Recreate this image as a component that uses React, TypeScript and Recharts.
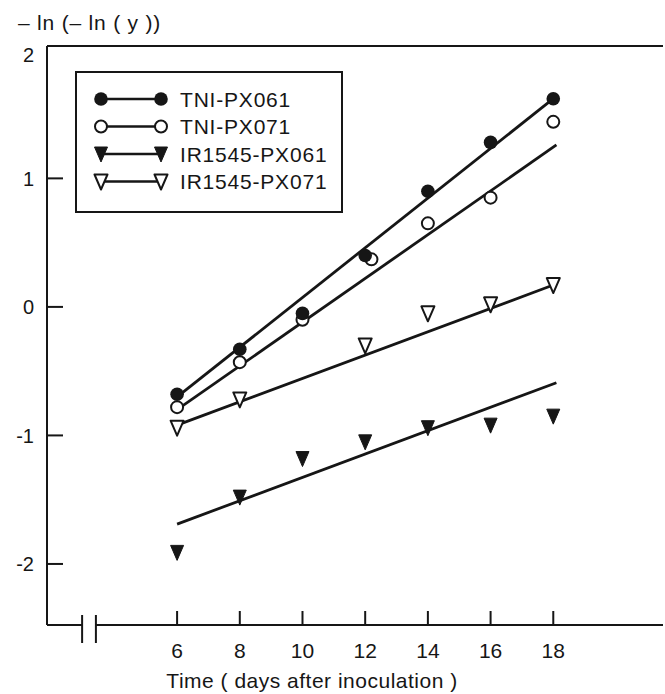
import { ComposedChart, Line, ReferenceLine, Scatter, XAxis, YAxis } from "recharts";

const INK = "#161616";
const FONT = '"Liberation Sans", Arial, sans-serif';

const xTicks = [6, 8, 10, 12, 14, 16, 18];
const yTicks = [-2, -1, 0, 1, 2];
const xDomain = [1.85, 21.5];
const yDomain = [-2.475, 2.03];
// axis break on the time axis (days) and how far the bars reach (y units)
const breakXs = [2.97, 3.41];
const breakYs = [-2.397, -2.615];

const yTitle = "– ln (– ln ( y ))";
const xTitle = "Time  ( days after inoculation )";

const seriesNames = ["TNI-PX061", "TNI-PX071", "IR1545-PX061", "IR1545-PX071"];
const seriesMarks = ["dot", "circle", "tri", "openTri"];

const tniPx061 = [
  { x: 6, y: -0.68 },
  { x: 8, y: -0.33 },
  { x: 10, y: -0.05 },
  { x: 12, y: 0.4 },
  { x: 14, y: 0.9 },
  { x: 16, y: 1.28 },
  { x: 18, y: 1.62 },
];
const tniPx071 = [
  { x: 6, y: -0.78 },
  { x: 8, y: -0.43 },
  { x: 10, y: -0.1 },
  { x: 12.2, y: 0.37 },
  { x: 14, y: 0.65 },
  { x: 16, y: 0.85 },
  { x: 18, y: 1.44 },
];
const ir1545Px061 = [
  { x: 6, y: -1.91 },
  { x: 8, y: -1.48 },
  { x: 10, y: -1.18 },
  { x: 12, y: -1.05 },
  { x: 14, y: -0.94 },
  { x: 16, y: -0.92 },
  { x: 18, y: -0.85 },
];
const ir1545Px071 = [
  { x: 6, y: -0.94 },
  { x: 8, y: -0.72 },
  { x: 12, y: -0.3 },
  { x: 14, y: -0.05 },
  { x: 16, y: 0.02 },
  { x: 18, y: 0.17 },
];

// fitted regression lines (end points)
const fitTniPx061 = [
  { x: 5.95, y: -0.71 },
  { x: 18, y: 1.62 },
];
const fitTniPx071 = [
  { x: 6, y: -0.8 },
  { x: 18.1, y: 1.26 },
];
const fitIr1545Px061 = [
  { x: 6, y: -1.69 },
  { x: 18.1, y: -0.59 },
];
const fitIr1545Px071 = [
  { x: 6, y: -0.92 },
  { x: 18, y: 0.17 },
];

function Mark({ kind, cx, cy }: { kind: string; cx: number; cy: number }) {
  if (kind === "dot") return <circle cx={cx} cy={cy} r={6.8} fill={INK} />;
  if (kind === "circle")
    return <circle cx={cx} cy={cy} r={6} fill="#fff" stroke={INK} strokeWidth={2} />;
  const pts = `${cx - 6.5},${cy - 7} ${cx + 6.5},${cy - 7} ${cx},${cy + 8}`;
  if (kind === "tri") return <polygon points={pts} fill={INK} stroke={INK} strokeWidth={1} />;
  return <polygon points={pts} fill="#fff" stroke={INK} strokeWidth={2} strokeLinejoin="round" />;
}

const markShape = (kind: string) => (p: any) => <Mark kind={kind} cx={p.cx} cy={p.cy} />;

function YTick({ x, y, payload }: any) {
  const v = payload.value;
  return (
    <g>
      {v !== 2 && <line x1={x} x2={x + 16} y1={y} y2={y} stroke={INK} strokeWidth={2} />}
      <text x={x - 13} y={v === 2 ? y + 5 : y} dy="0.36em" textAnchor="end" fontSize={20} fontFamily={FONT} fill={INK}>
        {v}
      </text>
    </g>
  );
}

function XTick({ x, y, payload }: any) {
  return (
    <g>
      <line x1={x} x2={x} y1={y} y2={y - 14} stroke={INK} strokeWidth={2} />
      <text x={x} y={y + 25} dy="0.36em" textAnchor="middle" fontSize={21} fontFamily={FONT} fill={INK}>
        {payload.value}
      </text>
    </g>
  );
}

function Legendbox() {
  return (
    <div
      style={{
        position: "absolute",
        left: 75,
        top: 71,
        width: 268,
        height: 142,
        border: `2px solid ${INK}`,
        boxSizing: "border-box",
        background: "#fff",
      }}
    >
      <svg width={264} height={138}>
        {seriesNames.map((name, i) => {
          const cy = 26 + i * 27.5;
          return (
            <g key={name}>
              <line x1={24} x2={84} y1={cy} y2={cy} stroke={INK} strokeWidth={2.5} />
              <Mark kind={seriesMarks[i]} cx={24} cy={cy} />
              <Mark kind={seriesMarks[i]} cx={84} cy={cy} />
              <text x={103} y={cy} dy="0.36em" fontSize={21} fontFamily={FONT} fill={INK} letterSpacing={0.8}>
                {name}
              </text>
            </g>
          );
        })}
      </svg>
    </div>
  );
}

export default function App() {
  return (
    <div style={{ position: "absolute", left: 0, top: 0, width: 665, height: 694, background: "#fff" }}>
      <ComposedChart width={665} height={694} margin={{ top: 46, right: 2, bottom: 0, left: 0 }}>
        <XAxis
          dataKey="x"
          type="number"
          domain={xDomain}
          ticks={xTicks}
          allowDataOverflow
          axisLine={false}
          tickLine={false}
          tickSize={0}
          tickMargin={0}
          height={69}
          tick={<XTick />}
          label={(props: any) => {
            const vb = props.viewBox || { x: 47, y: 625 };
            return (
              <text x={vb.x + 265} y={vb.y + 55} dy="0.36em" textAnchor="middle" fontSize={21} fontFamily={FONT} fill={INK} letterSpacing={0.5}>
                {xTitle}
              </text>
            );
          }}
        />
        <YAxis
          dataKey="y"
          type="number"
          domain={yDomain}
          ticks={yTicks}
          allowDataOverflow
          axisLine={{ stroke: INK, strokeWidth: 2 }}
          tickLine={false}
          tickSize={0}
          tickMargin={0}
          width={47}
          tick={<YTick />}
          label={(props: any) => {
            const vb = props.viewBox || { x: 0, y: 46 };
            return (
              <text x={vb.x + 18} y={vb.y - 24} dy="0.36em" fontSize={21} fontFamily={FONT} fill={INK} letterSpacing={0.8}>
                {yTitle}
              </text>
            );
          }}
        />
        <ReferenceLine y={yDomain[1]} stroke={INK} strokeWidth={2} />
        <ReferenceLine
          segment={[
            { x: xDomain[0], y: yDomain[0] },
            { x: breakXs[0], y: yDomain[0] },
          ]}
          stroke={INK}
          strokeWidth={2}
          ifOverflow="visible"
        />
        <ReferenceLine
          segment={[
            { x: breakXs[1], y: yDomain[0] },
            { x: xDomain[1], y: yDomain[0] },
          ]}
          stroke={INK}
          strokeWidth={2}
          ifOverflow="visible"
        />
        {breakXs.map((bx) => (
          <ReferenceLine
            key={bx}
            segment={[
              { x: bx, y: breakYs[0] },
              { x: bx, y: breakYs[1] },
            ]}
            stroke={INK}
            strokeWidth={2}
            ifOverflow="visible"
          />
        ))}
        <Line data={fitTniPx061} dataKey="y" type="linear" stroke={INK} strokeWidth={2.8} dot={false} isAnimationActive={false} />
        <Line data={fitTniPx071} dataKey="y" type="linear" stroke={INK} strokeWidth={2.8} dot={false} isAnimationActive={false} />
        <Line data={fitIr1545Px061} dataKey="y" type="linear" stroke={INK} strokeWidth={2.8} dot={false} isAnimationActive={false} />
        <Line data={fitIr1545Px071} dataKey="y" type="linear" stroke={INK} strokeWidth={2.8} dot={false} isAnimationActive={false} />
        <Scatter data={ir1545Px061} dataKey="y" shape={markShape("tri")} isAnimationActive={false} />
        <Scatter data={ir1545Px071} dataKey="y" shape={markShape("openTri")} isAnimationActive={false} />
        <Scatter data={tniPx071} dataKey="y" shape={markShape("circle")} isAnimationActive={false} />
        <Scatter data={tniPx061} dataKey="y" shape={markShape("dot")} isAnimationActive={false} />
      </ComposedChart>
      <Legendbox />
    </div>
  );
}
